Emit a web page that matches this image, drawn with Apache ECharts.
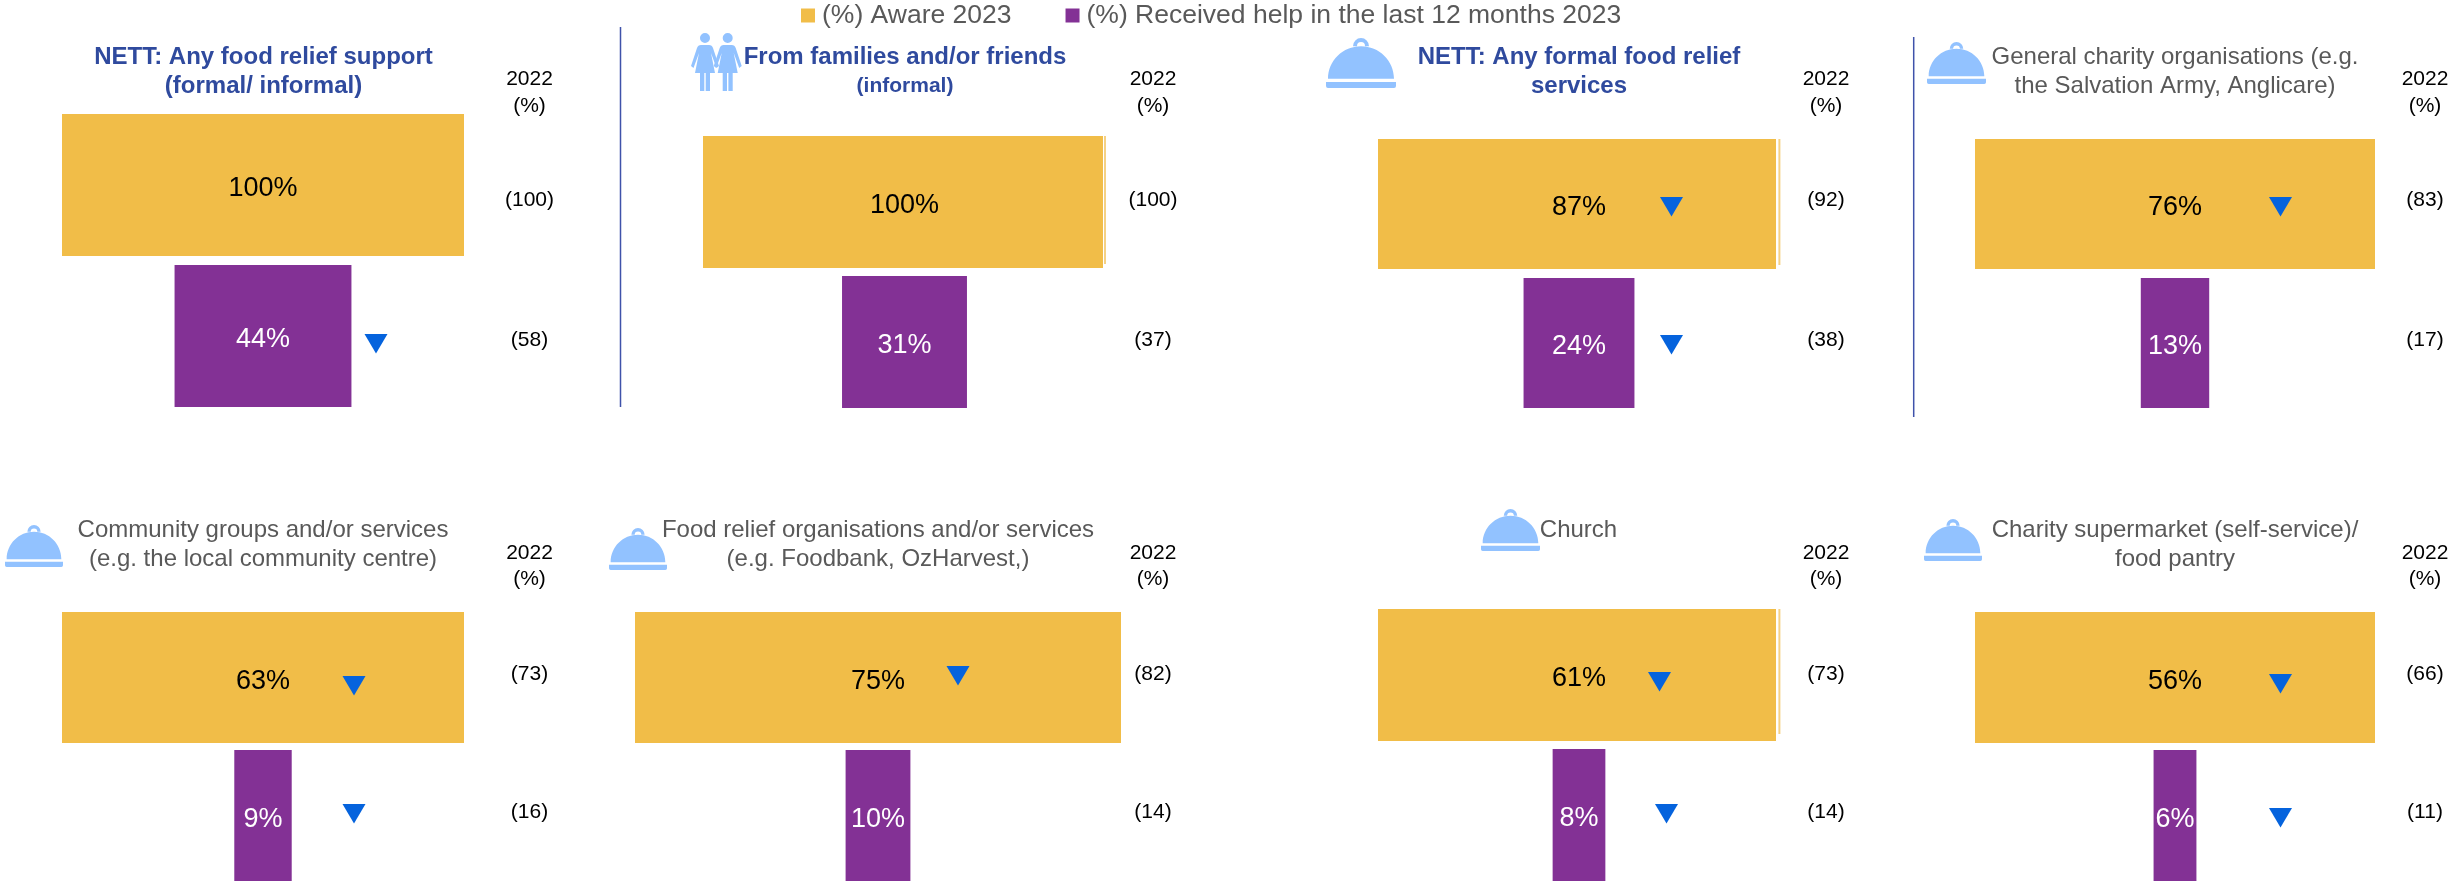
<!DOCTYPE html>
<html>
<head>
<meta charset="utf-8">
<style>
  html, body { margin: 0; padding: 0; background: #fff; }
  #main { width: 2458px; height: 886px; }
</style>
<script src="https://cdn.jsdelivr.net/npm/echarts@6/dist/echarts.min.js"></script>
</head>
<body>
<div id="main"></div>
<script>
// values
const categories = ['(%) Aware 2023', '(%) Received help in the last 12 months 2023'];
const aware2023 = [100, 100, 87, 76, 63, 75, 61, 56];
const received2023 = [44, 31, 24, 13, 9, 10, 8, 6];
const aware2022 = [100, 100, 92, 83, 73, 82, 73, 66];
const received2022 = [58, 37, 38, 17, 16, 14, 14, 11];
const panelTitles = [
  ['NETT: Any food relief support', '(formal/ informal)'],
  ['From families and/or friends', '(informal)'],
  ['NETT: Any formal food relief', 'services'],
  ['General charity organisations (e.g.', 'the Salvation Army, Anglicare)'],
  ['Community groups and/or services', '(e.g. the local community centre)'],
  ['Food relief organisations and/or services', '(e.g. Foodbank, OzHarvest,)'],
  ['Church'],
  ['Charity supermarket (self-service)/', 'food pantry']
];
const yearLabel = ['2022', '(%)'];

// panel geometry: left, width, top, height of the plot, bar thickness, centre of 2022 column
const panels = [
  {l: 62, w: 402, t: 109.5, h: 302, bar: 142, col: 529.5, head: 57, row: 0},
  {l: 703, w: 403, t: 132, h: 280, bar: 132, col: 1153, head: 57, row: 0},
  {l: 1378, w: 402, t: 134.5, h: 278, bar: 130, col: 1826, head: 57, row: 0},
  {l: 1975, w: 400, t: 134.5, h: 278, bar: 130, col: 2425, head: 57, row: 0},
  {l: 62, w: 402, t: 608.5, h: 276, bar: 131, col: 529.5, head: 530, row: 1},
  {l: 635, w: 486, t: 608.5, h: 276, bar: 131, col: 1153, head: 530, row: 1},
  {l: 1378, w: 402, t: 605, h: 280, bar: 132, col: 1826, head: 530, row: 1},
  {l: 1975, w: 400, t: 608.5, h: 276, bar: 131, col: 2425, head: 530, row: 1}
];
const titleCentres = [263.5, 905, 1579, 2175, 263, 878, 1578.5, 2175];
const yearRows = [{year: [79, 106], aware: 200, received: 340}, {year: [553, 579], aware: 674, received: 812}];

// significance arrows: [centre x, top y]
const arrows = [
  [376, 334], [1671.5, 197], [1671.5, 335], [2280.5, 197],
  [354, 676], [354, 804], [958, 666], [1659.5, 672], [1666.5, 804], [2280.5, 674], [2280.5, 808]
];
// icon boxes: [x, y, w, h]
const cloches = [
  [1326, 38, 70, 50], [1927, 42, 59, 42], [5, 525, 58, 42],
  [609, 528, 58, 42], [1481, 509, 59, 42], [1924, 519, 58, 42]
];
const people = [[691, 33, 28, 58], [713.7, 33, 28, 58]];
const dividers = [[620.5, 27, 407], [1913.7, 37, 417]];
// the split right edge some yellow bars have: bar end, line x, top, bottom, line end
const slivers = [[1103, 1105, 136, 268, 264], [1776, 1779.4, 139, 269, 265], [1776, 1779.4, 609, 741, 734]];

const YELLOW = '#F1BD48';
const PURPLE = '#833195';
const ICON = '#92C2FF';
const NAVY = '#2F4A9E';
const GREY = '#595959';
const FONT = '"Liberation Sans", Arial, sans-serif';

const clochePath = 'M2 41 C2 23 17 9 35 9 C53 9 68 23 68 41 Z ' +
  'M27 9 A8 8 0 0 1 43 9 L39 9 A4 4 0 0 0 31 9 Z ' +
  'M0 44 L70 44 L70 48 Q70 50 68 50 L2 50 Q0 50 0 48 Z';
const personPath = 'M9 5 A5 5 0 1 1 19 5 A5 5 0 1 1 9 5 Z ' +
  'M10 12 L18 12 Q21 12 22 15 L28 33 L25.5 35 L20 20 L24 40 L19 40 L19 58 L14.7 58 L14.7 40 L13.3 40 L13.3 58 L9 58 L9 40 L4 40 L8 20 L2.5 35 L0 33 L6 15 Q7 12 10 12 Z';

const grid = [], xAxis = [], yAxis = [], series = [], graphic = [];

function text(str, x, y, font, color) {
  graphic.push({
    type: 'text', x: x, y: y, silent: true,
    style: {text: str, font: font, fill: color, align: 'center', verticalAlign: 'middle'}
  });
}

panels.forEach(function (p, i) {
  const top = aware2023[i];
  grid.push({left: p.l, top: p.t, width: p.w, height: p.h});
  xAxis.push({type: 'value', gridIndex: i, min: 0, max: top, show: false});
  yAxis.push({type: 'category', gridIndex: i, inverse: true, show: false, data: categories});
  // transparent offset keeps both bars centred on the panel
  series.push({
    type: 'bar', xAxisIndex: i, yAxisIndex: i, stack: 'p' + i, barWidth: p.bar, silent: true,
    itemStyle: {color: 'transparent'},
    data: [0, (top - received2023[i]) / 2]
  });
  series.push({
    name: categories[0], type: 'bar', xAxisIndex: i, yAxisIndex: i, stack: 'p' + i, barWidth: p.bar,
    itemStyle: {color: YELLOW},
    label: {show: true, position: 'inside', offset: [0, 4], formatter: '{c}%', color: '#000', fontSize: 27, fontFamily: FONT},
    data: [aware2023[i], '-']
  });
  series.push({
    name: categories[1], type: 'bar', xAxisIndex: i, yAxisIndex: i, stack: 'p' + i, barWidth: p.bar,
    itemStyle: {color: PURPLE},
    label: {show: true, position: 'inside', offset: [0, 4], formatter: '{c}%', color: '#fff', fontSize: 27, fontFamily: FONT},
    data: ['-', received2023[i]]
  });

  // heading
  const bold = i < 3;
  panelTitles[i].forEach(function (line, k) {
    const size = (i === 1 && k === 1) ? 21 : 24;
    const weight = bold ? 'bold ' : '';
    text(line, titleCentres[i], p.head + k * 29, weight + size + 'px ' + FONT, bold ? NAVY : GREY);
  });

  // 2022 column
  const r = yearRows[p.row];
  yearLabel.forEach(function (s, k) {
    text(s, p.col, r.year[k], '21px ' + FONT, '#000');
  });
  text('(' + aware2022[i] + ')', p.col, r.aware, '21px ' + FONT, '#000');
  text('(' + received2022[i] + ')', p.col, r.received, '21px ' + FONT, '#000');
});

dividers.forEach(function (d) {
  graphic.push({
    type: 'line', silent: true,
    shape: {x1: d[0], y1: d[1], x2: d[0], y2: d[2]},
    style: {stroke: '#3F52AA', lineWidth: 1.5}
  });
});
slivers.forEach(function (s) {
  graphic.push({
    type: 'rect', silent: true, z: 10,
    shape: {x: s[0], y: s[2] - 1, width: 6, height: s[3] - s[2] + 2},
    style: {fill: '#fff'}
  });
  graphic.push({
    type: 'line', silent: true, z: 11,
    shape: {x1: s[1], y1: s[2], x2: s[1], y2: s[4]},
    style: {stroke: '#F5D184', lineWidth: 2}
  });
});
arrows.forEach(function (a) {
  graphic.push({
    type: 'polygon', silent: true, z: 12,
    shape: {points: [[a[0] - 11.5, a[1]], [a[0] + 11.5, a[1]], [a[0], a[1] + 19.5]]},
    style: {fill: '#0563DD'}
  });
});

// icons go through a custom series, the graphic component has no raw path type
const iconBoxes = cloches.map(function (b) { return b.concat(0); })
  .concat(people.map(function (b) { return b.concat(1); }));
series.push({
  type: 'custom', coordinateSystem: 'none', silent: true, z: 5,
  data: iconBoxes,
  renderItem: function (params, api) {
    return {
      type: 'path',
      shape: {
        pathData: api.value(4) === 0 ? clochePath : personPath,
        layout: 'cover',
        x: api.value(0), y: api.value(1), width: api.value(2), height: api.value(3)
      },
      style: {fill: ICON}
    };
  }
});

const chart = echarts.init(document.getElementById('main'), null, {renderer: 'canvas'});
chart.setOption({
  backgroundColor: '#fff',
  animation: false,
  textStyle: {fontFamily: FONT},
  legend: {
    left: 801, top: 2, padding: 0,
    data: categories,
    icon: 'rect', itemWidth: 14, itemHeight: 14, itemGap: 54,
    selectedMode: false,
    textStyle: {color: GREY, fontSize: 26.5, fontFamily: FONT, padding: [0, 0, 0, 2]}
  },
  grid: grid, xAxis: xAxis, yAxis: yAxis, series: series, graphic: graphic
});
</script>
</body>
</html>
